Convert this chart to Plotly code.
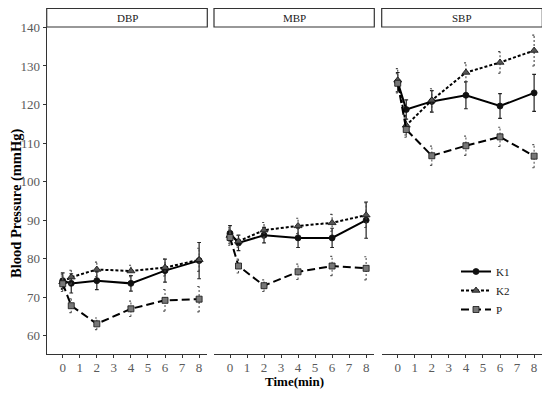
import plotly.graph_objects as go

# ---------------- data ----------------
time = [0, 0.5, 2, 4, 6, 8]
panels = ["DBP", "MBP", "SBP"]
groups = ["K1", "K2", "P"]

dbp_k1 = [74.3, 73.6, 74.3, 73.6, 76.9, 79.5]
dbp_k1_err = [2.0, 2.5, 2.3, 2.0, 3.0, 4.7]
dbp_k2 = [74.0, 75.2, 77.2, 76.8, 77.7, 79.7]
dbp_k2_err = [2.0, 1.8, 1.9, 1.5, 2.2, 3.0]
dbp_p = [73.5, 67.8, 63.1, 67.0, 69.2, 69.5]
dbp_p_err = [2.0, 1.8, 1.5, 2.0, 2.8, 3.3]

mbp_k1 = [86.6, 84.1, 86.1, 85.4, 85.4, 90.0]
mbp_k1_err = [2.0, 2.0, 2.0, 2.5, 2.5, 4.7]
mbp_k2 = [86.0, 84.5, 87.4, 88.5, 89.3, 91.3]
mbp_k2_err = [2.0, 1.5, 2.0, 2.0, 2.2, 3.2]
mbp_p = [85.5, 78.1, 73.0, 76.6, 78.1, 77.5]
mbp_p_err = [2.0, 1.8, 1.5, 2.0, 2.5, 3.0]

sbp_k1 = [125.8, 118.7, 120.8, 122.4, 119.6, 123.0]
sbp_k1_err = [2.5, 2.5, 2.8, 3.5, 3.2, 4.8]
sbp_k2 = [126.3, 114.6, 121.1, 128.3, 130.9, 134.0]
sbp_k2_err = [3.0, 2.5, 3.0, 2.5, 2.8, 4.0]
sbp_p = [125.5, 113.5, 106.7, 109.3, 111.6, 106.6]
sbp_p_err = [2.5, 2.0, 2.5, 2.5, 2.5, 3.0]

x_ticks = [0, 1, 2, 3, 4, 5, 6, 7, 8]
y_ticks = [60, 70, 80, 90, 100, 110, 120, 130, 140]

series = {
    "DBP": {"K1": (dbp_k1, dbp_k1_err), "K2": (dbp_k2, dbp_k2_err), "P": (dbp_p, dbp_p_err)},
    "MBP": {"K1": (mbp_k1, mbp_k1_err), "K2": (mbp_k2, mbp_k2_err), "P": (mbp_p, mbp_p_err)},
    "SBP": {"K1": (sbp_k1, sbp_k1_err), "K2": (sbp_k2, sbp_k2_err), "P": (sbp_p, sbp_p_err)},
}

# ---------------- styles ----------------
OFF = 8  # page body margin
W, H = 550 - OFF, 394 - OFF
FONT = "Liberation Serif, Times New Roman, serif"
style = {
    "K1": dict(dash="solid", symbol="circle", msize=6, mcolor="#111111", ecolor="#222222", edash="solid", ewidth=1.2),
    "K2": dict(dash="3px,2px", symbol="triangle-up", msize=7, mcolor="#555555", ecolor="#444444", edash="2px,2px", ewidth=1.1),
    "P": dict(dash="8px,4px", symbol="square", msize=6, mcolor="#777777", ecolor="#555555", edash="2px,2px", ewidth=1.1),
}

def px_x(p):
    return (p - OFF) / W

def px_y(p):
    return 1 - (p - OFF) / H

x_domains = [(46.7, 207.3), (214.0, 374.3), (381.7, 542.3)]
y_dom = (354.3, 27.0)
xr = [-0.94, 8.48]
yr = [55.2, 140.1]
cap = 0.11

fig = go.Figure()

for i, pan in enumerate(panels):
    xa = "x" if i == 0 else f"x{i+1}"
    ya = "y" if i == 0 else f"y{i+1}"
    for g in groups:
        vals, errs = series[pan][g]
        st = style[g]
        ex, ey = [], []
        for t, v, e in zip(time, vals, errs):
            ex += [t, t, None, t - cap, t + cap, None, t - cap, t + cap, None]
            ey += [v - e, v + e, None, v + e, v + e, None, v - e, v - e, None]
        fig.add_trace(go.Scatter(
            x=ex, y=ey, mode="lines", xaxis=xa, yaxis=ya, showlegend=False,
            hoverinfo="skip",
            line=dict(color=st["ecolor"], width=st["ewidth"], dash=st["edash"]),
        ))
        fig.add_trace(go.Scatter(
            x=time, y=vals, mode="lines+markers", name=g, xaxis=xa, yaxis=ya,
            showlegend=(i == 2), legendgroup=g,
            line=dict(color="#000000", width=2, dash=st["dash"]),
            marker=dict(symbol=st["symbol"], size=st["msize"], color=st["mcolor"],
                        line=dict(color="#111111", width=0.8)),
        ))

layout = dict(
    width=W, height=H,
    margin=dict(l=0, r=0, t=0, b=0, autoexpand=False),
    paper_bgcolor="white", plot_bgcolor="white",
    font=dict(family=FONT, color="#4d4d4d"),
    showlegend=True,
    legend=dict(x=px_x(456), y=px_y(257), xanchor="left", yanchor="top",
                bgcolor="rgba(0,0,0,0)", font=dict(family=FONT, size=11, color="#1a1a1a"),
                tracegroupgap=0),
)

for i in range(3):
    xk = "xaxis" if i == 0 else f"xaxis{i+1}"
    yk = "yaxis" if i == 0 else f"yaxis{i+1}"
    ya = "y" if i == 0 else f"y{i+1}"
    xa = "x" if i == 0 else f"x{i+1}"
    layout[xk] = dict(
        domain=[px_x(x_domains[i][0]), px_x(x_domains[i][1])], anchor=ya,
        range=xr, tickvals=x_ticks, ticktext=[str(t) for t in x_ticks],
        automargin=False,
        showgrid=False, zeroline=False, showline=True, linecolor="#333333", linewidth=1.2,
        ticks="outside", ticklen=3, tickcolor="#333333", tickwidth=1,
        ticklabelstandoff=-2,
        tickfont=dict(family=FONT, size=13, color="#5a5a5a"),
    )
    layout[yk] = dict(
        domain=[px_y(y_dom[0]), px_y(y_dom[1])], anchor=xa,
        range=yr, tickvals=y_ticks, automargin=False,
        showgrid=False, zeroline=False,
        showline=(i == 0), linecolor="#333333", linewidth=1.2,
        ticks="outside" if i == 0 else "", ticklen=3, tickcolor="#333333",
        showticklabels=(i == 0),
        tickfont=dict(family=FONT, size=13, color="#5a5a5a"),
    )
    if i > 0:
        layout[yk]["matches"] = "y"

fig.update_layout(**layout)

for i, pan in enumerate(panels):
    x0, x1 = x_domains[i]
    fig.add_shape(type="rect", xref="paper", yref="paper",
                  x0=px_x(x0), x1=px_x(x1), y0=px_y(27), y1=px_y(8.5),
                  line=dict(color="#333333", width=1.2), fillcolor="white")
    fig.add_annotation(text=pan, xref="paper", yref="paper",
                       x=px_x((x0 + x1) / 2), y=px_y(18), showarrow=False,
                       xanchor="center", yanchor="middle",
                       font=dict(family=FONT, size=11, color="#1a1a1a"))

fig.add_annotation(text="<b>Time(min)</b>", xref="paper", yref="paper",
                   x=px_x(294), y=px_y(381), showarrow=False,
                   xanchor="center", yanchor="middle",
                   font=dict(family=FONT, size=13, color="#000000"))
fig.add_annotation(text="<b>Blood Pressure (mmHg)</b>", xref="paper", yref="paper",
                   x=px_x(16), y=px_y(204), showarrow=False, textangle=-90,
                   xanchor="center", yanchor="middle", borderpad=0,
                   font=dict(family=FONT, size=14.5, color="#000000"))

fig.write_html("out.html")
